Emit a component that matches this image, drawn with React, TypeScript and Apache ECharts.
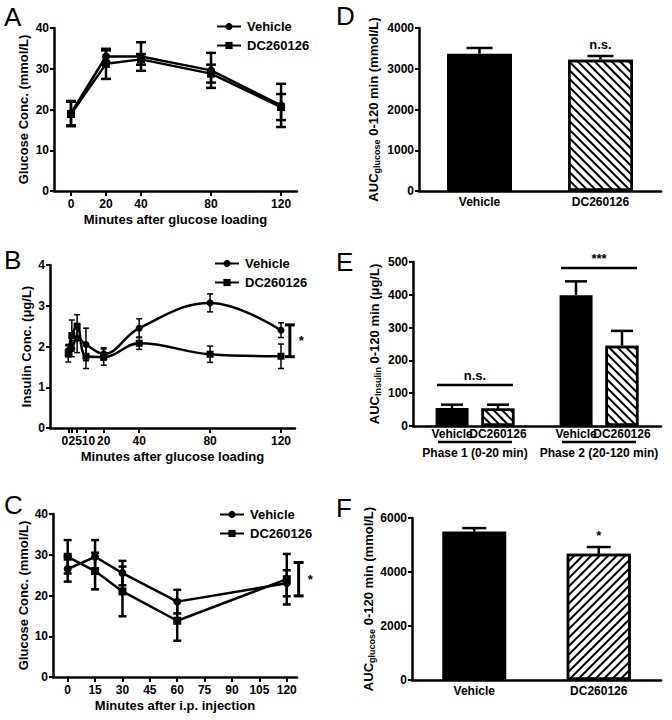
import React, { useEffect, useRef } from 'react';
import * as echarts from 'echarts';

const FONT = '"Liberation Sans", Arial, Helvetica, sans-serif';

// ---------- Panel A: OGTT glucose ----------
const aMinutes = [0, 20, 40, 80, 120];
const aTicks = [0, 20, 40, 80, 120];
const aVehicle = [19.1, 33.0, 33.0, 29.6, 21.0];
const aVehicleErr = [3.0, 1.5, 3.5, 4.3, 5.3];
const aDC = [18.9, 31.2, 32.3, 28.8, 20.6];
const aDCErr = [3.0, 3.7, 1.3, 2.2, 3.2];

// ---------- Panel B: insulin ----------
const bMinutes = [0, 2, 5, 10, 20, 40, 80, 120];
const bTicks = [0, 2, 5, 10, 20, 40, 80, 120];
const bVehicle = [1.9, 1.95, 2.2, 2.05, 1.82, 2.45, 3.07, 2.4];
const bVehicleErr = [0.15, 0.2, 0.35, 0.4, 0.15, 0.23, 0.22, 0.18];
const bDC = [1.82, 2.27, 2.5, 1.76, 1.74, 2.08, 1.81, 1.76];
const bDCErr = [0.2, 0.38, 0.28, 0.3, 0.2, 0.15, 0.2, 0.3];
const bBracket = [125, 1.75, 2.53];

// ---------- Panel C: ITT glucose ----------
const cMinutes = [0, 15, 30, 60, 120];
const cTicks = [0, 15, 30, 45, 60, 75, 90, 105, 120];
const cVehicle = [26.5, 29.5, 25.5, 18.5, 23.0];
const cVehicleErr = [3.1, 4.1, 3.0, 2.9, 3.2];
const cDC = [29.5, 26.0, 21.0, 13.8, 24.0];
const cDCErr = [4.1, 4.5, 6.1, 4.9, 6.2];
const cBracket = [126.5, 19.9, 28.1];

// ---------- Panel D: AUC glucose (OGTT) ----------
const groups = ['Vehicle', 'DC260126'];
const dAUC = [3370, 3223];
const dErr = [140, 90];
const dSig = ['', 'n.s.'];

// ---------- Panel E: AUC insulin ----------
const phases = ['Phase 1 (0-20 min)', 'Phase 2 (20-120 min)'];
const eVehicle = [55, 399];
const eVehicleErr = [10, 42];
const eDC = [53, 245];
const eDCErr = [12, 45];
const eSig = ['n.s.', '***'];
const eSigLevel = [125, 482];

// ---------- Panel F: AUC glucose (ITT) ----------
const fAUC = [5500, 4680];
const fErr = [125, 245];
const fSig = ['', '*'];

const panelLetters = ['A', 'B', 'C', 'D', 'E', 'F'];

const BLACK = '#000';

const axisLine = { show: true, onZero: false, lineStyle: { color: BLACK, width: 2.5 } };
const labelStyle = { color: BLACK, fontFamily: FONT, fontWeight: 'bold' as const, fontSize: 12 };
const nameStyle = { color: BLACK, fontFamily: FONT, fontWeight: 'bold' as const, fontSize: 13 };
const richName = {
  ...nameStyle,
  rich: {
    m: { ...nameStyle, lineHeight: 16 },
    s: { ...nameStyle, fontSize: 9, lineHeight: 9, verticalAlign: 'bottom' as const },
  },
};
const plain = (v: number) => String(v);

// crowded early-minute labels of panel B are nudged apart so they read "02510" like the original
const bLabelRich = {
  l: { ...labelStyle, padding: [0, 7, 0, 0] },
  c: { ...labelStyle },
  r1: { ...labelStyle, padding: [0, 0, 0, 3] },
  r2: { ...labelStyle, padding: [0, 0, 0, 5] },
};
const bLabelKey: Record<number, string> = { 0: 'l', 2: 'c', 5: 'r1', 10: 'r2' };

function errBar(cap: number, lw: number) {
  return (_p: any, api: any) => {
    const x = api.value(0);
    const a = api.coord([x, api.value(1)]);
    const b = api.coord([x, api.value(2)]);
    const st = { stroke: BLACK, lineWidth: lw };
    return {
      type: 'group',
      children: [
        { type: 'line', shape: { x1: a[0], y1: a[1], x2: b[0], y2: b[1] }, style: st },
        { type: 'line', shape: { x1: a[0] - cap, y1: a[1], x2: a[0] + cap, y2: a[1] }, style: st },
        { type: 'line', shape: { x1: b[0] - cap, y1: b[1], x2: b[0] + cap, y2: b[1] }, style: st },
      ],
    };
  };
}

function bracket(cap: number, lw: number, star: string) {
  const base = errBar(cap, lw);
  return (p: any, api: any) => {
    const g: any = base(p, api);
    const a = api.coord([api.value(0), (api.value(1) + api.value(2)) / 2]);
    g.children.push({
      type: 'text',
      x: a[0] + cap + 4,
      y: a[1],
      style: { text: star, fill: BLACK, font: `bold 13px ${FONT}`, align: 'left', verticalAlign: 'middle' },
    });
    return g;
  };
}

function barErr(cap: number, lw: number, dx: number) {
  return (_p: any, api: any) => {
    const x = api.value(0);
    const v = api.value(1);
    const e = api.value(2);
    const a = api.coord([x, v]);
    const b = api.coord([x, v + e]);
    const st = { stroke: BLACK, lineWidth: lw };
    return {
      type: 'group',
      children: [
        { type: 'line', shape: { x1: a[0] + dx, y1: a[1], x2: b[0] + dx, y2: b[1] }, style: st },
        { type: 'line', shape: { x1: b[0] + dx - cap, y1: b[1], x2: b[0] + dx + cap, y2: b[1] }, style: st },
      ],
    };
  };
}

function sigText(labels: string[]) {
  return (p: any, api: any) => {
    const a = api.coord([api.value(0), api.value(1)]);
    return {
      type: 'text',
      x: a[0],
      y: a[1] - 5,
      style: { text: labels[p.dataIndex], fill: BLACK, font: `bold 13px ${FONT}`, align: 'center', verticalAlign: 'bottom' },
    };
  };
}

function sigLine(labels: string[], half: number) {
  return (p: any, api: any) => {
    const a = api.coord([api.value(0), api.value(1)]);
    return {
      type: 'group',
      children: [
        { type: 'line', shape: { x1: a[0] - half, y1: a[1], x2: a[0] + half, y2: a[1] }, style: { stroke: BLACK, lineWidth: 2.5 } },
        {
          type: 'text',
          x: a[0],
          y: a[1] - 3,
          style: { text: labels[p.dataIndex], fill: BLACK, font: `bold 13px ${FONT}`, align: 'center', verticalAlign: 'bottom' },
        },
      ],
    };
  };
}

function underline(half: number, drop: number) {
  return (_p: any, api: any) => {
    const a = api.coord([api.value(0), 0]);
    return {
      type: 'line',
      shape: { x1: a[0] - half, y1: a[1] + drop, x2: a[0] + half, y2: a[1] + drop },
      style: { stroke: BLACK, lineWidth: 2.5 },
    };
  };
}

const hatch = (rotation: number, gap: number) => ({
  color: '#fff',
  borderColor: BLACK,
  borderWidth: 2.5,
  decal: {
    symbol: 'rect',
    symbolSize: 1,
    color: BLACK,
    dashArrayX: [1, 0],
    dashArrayY: [2, gap],
    rotation,
  },
});
const solid = { color: BLACK, borderColor: BLACK, borderWidth: 2 };

function valueX(
  grid: number,
  min: number,
  max: number,
  ticks: number[],
  name: string,
  rich?: any,
  richKey?: Record<number, string>
) {
  // An unlabeled slot at the axis minimum keeps ECharts from dropping crowded first labels.
  const labelValues = [min, ...ticks];
  return {
    type: 'value',
    gridIndex: grid,
    min,
    max,
    axisLine,
    axisTick: { show: true, length: 5, lineStyle: { color: BLACK, width: 2 }, customValues: ticks },
    axisLabel: {
      ...labelStyle,
      margin: 7,
      customValues: labelValues,
      hideOverlap: false,
      showMinLabel: true,
      showMaxLabel: true,
      rich,
      formatter: (v: number) => {
        if (!ticks.includes(v)) return '';
        if (richKey && richKey[v]) return `{${richKey[v]}|${v}}`;
        return String(v);
      },
    },
    splitLine: { show: false },
    name,
    nameLocation: 'middle',
    nameGap: 22,
    nameTextStyle: nameStyle,
  };
}

function catX(grid: number, data: string[], margin: number) {
  return {
    type: 'category',
    gridIndex: grid,
    data,
    axisLine,
    axisTick: { show: false },
    axisLabel: { ...labelStyle, margin, interval: 0 },
    splitLine: { show: false },
  };
}

function valueY(grid: number, max: number, interval: number, name: string, gap: number, rich = false) {
  return {
    type: 'value',
    gridIndex: grid,
    min: 0,
    max,
    interval,
    axisLine,
    axisTick: { show: true, length: 4, lineStyle: { color: BLACK, width: 2 } },
    axisLabel: { ...labelStyle, margin: 5, formatter: plain },
    splitLine: { show: false },
    name,
    nameLocation: 'middle',
    nameGap: gap,
    nameTextStyle: rich ? richName : nameStyle,
  };
}

const pairs = (xs: number[], ys: number[]) => xs.map((x, i) => [x, ys[i]]);
const errs = (xs: number[], ys: number[], es: number[]) => xs.map((x, i) => [x, ys[i] - es[i], ys[i] + es[i]]);

function lineSeries(name: string, grid: number, data: number[][], symbol: string, size: number, smooth: any = false) {
  return {
    type: 'line',
    name,
    xAxisIndex: grid,
    yAxisIndex: grid,
    data,
    symbol,
    symbolSize: size,
    smooth,
    itemStyle: { color: BLACK },
    lineStyle: { color: BLACK, width: 2.5 },
    z: 3,
  };
}

function customS(grid: number, data: any[], renderItem: any, name = 'annot') {
  return {
    type: 'custom',
    name,
    xAxisIndex: grid,
    yAxisIndex: grid,
    data,
    renderItem,
    clip: false,
    silent: true,
    z: 4,
  };
}

export default function App() {
  const ref = useRef<HTMLDivElement>(null);

  useEffect(() => {
    if (!ref.current) return;
    const chart = echarts.init(ref.current, undefined, { renderer: 'svg' });

    const grids = [
      { left: 54, top: 28, width: 243, height: 163 },
      { left: 50, top: 265, width: 245, height: 163 },
      { left: 53, top: 514, width: 244, height: 163 },
      { left: 419, top: 28, width: 242, height: 163 },
      { left: 413, top: 262, width: 248, height: 164 },
      { left: 412, top: 518, width: 249, height: 162 },
    ].map((g) => ({ ...g, containLabel: false, outerBoundsMode: 'none' }));

    const legendBase = {
      orient: 'vertical',
      itemWidth: 24,
      itemHeight: 9,
      itemGap: 6,
      selectedMode: false,
      data: ['Vehicle', 'DC260126'],
      textStyle: { ...nameStyle, padding: [0, 0, 0, 1] },
    };

    const letterPos = [
      [4, 4],
      [4, 247],
      [4, 492],
      [336, 3],
      [336, 249],
      [336, 495],
    ];

    const option: any = {
      animation: false,
      backgroundColor: '#fff',
      grid: grids,
      legend: [
        { ...legendBase, left: 211, top: 15 },
        { ...legendBase, left: 209, top: 252 },
        { ...legendBase, left: 214, top: 503 },
      ],
      graphic: panelLetters.map((t, i) => ({
        type: 'text',
        left: letterPos[i][0],
        top: letterPos[i][1],
        style: { text: t, fill: BLACK, font: `26px ${FONT}` },
      })),
      xAxis: [
        valueX(0, -9.7, 129.1, aTicks, 'Minutes after glucose loading'),
        valueX(1, -10.3, 127.9, bTicks, 'Minutes after glucose loading', bLabelRich, bLabelKey),
        valueX(2, -8.05, 125.6, cTicks, 'Minutes after i.p. injection'),
        catX(3, groups, 5),
        catX(4, phases, 21),
        catX(5, groups, 5),
      ],
      yAxis: [
        valueY(0, 40, 10, 'Glucose Conc. (mmol/L)', 24),
        valueY(1, 4, 1, 'Insulin Conc. (μg/L)', 17),
        valueY(2, 40, 10, 'Glucose Conc. (mmol/L)', 23),
        valueY(3, 4000, 1000, '{m|AUC}{s|glucose}{m| 0-120 min (mmol/L)}', 38, true),
        valueY(4, 500, 100, '{m|AUC}{s|Insulin}{m| 0-120 min (μg/L)}', 31, true),
        valueY(5, 6000, 2000, '{m|AUC}{s|glucose}{m| 0-120 min (mmol/L)}', 35, true),
      ],
      series: [
        // A
        lineSeries('Vehicle', 0, pairs(aMinutes, aVehicle), 'circle', 8),
        lineSeries('DC260126', 0, pairs(aMinutes, aDC), 'rect', 8),
        customS(0, errs(aMinutes, aVehicle, aVehicleErr), errBar(5, 2.5)),
        customS(0, errs(aMinutes, aDC, aDCErr), errBar(5, 2.5)),
        // B
        lineSeries('Vehicle', 1, pairs(bMinutes, bVehicle), 'circle', 7, 0.4),
        lineSeries('DC260126', 1, pairs(bMinutes, bDC), 'rect', 7, 0.4),
        customS(1, errs(bMinutes, bVehicle, bVehicleErr), errBar(3, 1.5)),
        customS(1, errs(bMinutes, bDC, bDCErr), errBar(3, 1.5)),
        customS(1, [bBracket], bracket(5, 3, '*')),
        // C
        lineSeries('Vehicle', 2, pairs(cMinutes, cVehicle), 'circle', 8),
        lineSeries('DC260126', 2, pairs(cMinutes, cDC), 'rect', 8),
        customS(2, errs(cMinutes, cVehicle, cVehicleErr), errBar(4, 2.5)),
        customS(2, errs(cMinutes, cDC, cDCErr), errBar(4, 2.5)),
        customS(2, [cBracket], bracket(5, 3, '*')),
        // D
        {
          type: 'bar',
          name: 'AUC glucose OGTT',
          xAxisIndex: 3,
          yAxisIndex: 3,
          barWidth: 65,
          data: dAUC.map((v, i) => ({ value: v, itemStyle: i === 0 ? solid : hatch(Math.PI / 4, 3.5) })),
        },
        customS(3, dAUC.map((v, i) => [i, v, dErr[i]]), barErr(13, 2.5, 0)),
        customS(3, dAUC.map((v, i) => [i, v + dErr[i]]), sigText(dSig)),
        // E
        {
          type: 'bar',
          name: 'Vehicle',
          xAxisIndex: 4,
          yAxisIndex: 4,
          barWidth: 33,
          barGap: '39%',
          data: eVehicle,
          itemStyle: solid,
          label: { show: true, position: 'bottom', distance: 2, formatter: '{a}', ...labelStyle },
        },
        {
          type: 'bar',
          name: 'DC260126',
          xAxisIndex: 4,
          yAxisIndex: 4,
          barWidth: 33,
          barGap: '39%',
          data: eDC,
          itemStyle: hatch(Math.PI / 4, 3.5),
          label: { show: true, position: 'bottom', distance: 2, formatter: '{a}', ...labelStyle },
        },
        customS(4, eVehicle.map((v, i) => [i, v, eVehicleErr[i]]), barErr(11, 2.5, -23)),
        customS(4, eDC.map((v, i) => [i, v, eDCErr[i]]), barErr(11, 2.5, 23)),
        customS(4, eSigLevel.map((v, i) => [i, v]), sigLine(eSig, 38)),
        customS(4, phases.map((_, i) => [i, 0]), underline(37, 16)),
        // F
        {
          type: 'bar',
          name: 'AUC glucose ITT',
          xAxisIndex: 5,
          yAxisIndex: 5,
          barWidth: 64,
          data: fAUC.map((v, i) => ({ value: v, itemStyle: i === 0 ? solid : hatch(-Math.PI / 4, 4) })),
        },
        customS(5, fAUC.map((v, i) => [i, v, fErr[i]]), barErr(12, 2.5, 0)),
        customS(5, fAUC.map((v, i) => [i, v + fErr[i]]), sigText(fSig)),
      ],
    };

    chart.setOption(option);
    return () => chart.dispose();
  }, []);

  return (
    <div
      ref={ref}
      style={{ position: 'absolute', left: 0, top: 0, width: 672, height: 720, background: '#fff' }}
    />
  );
}
